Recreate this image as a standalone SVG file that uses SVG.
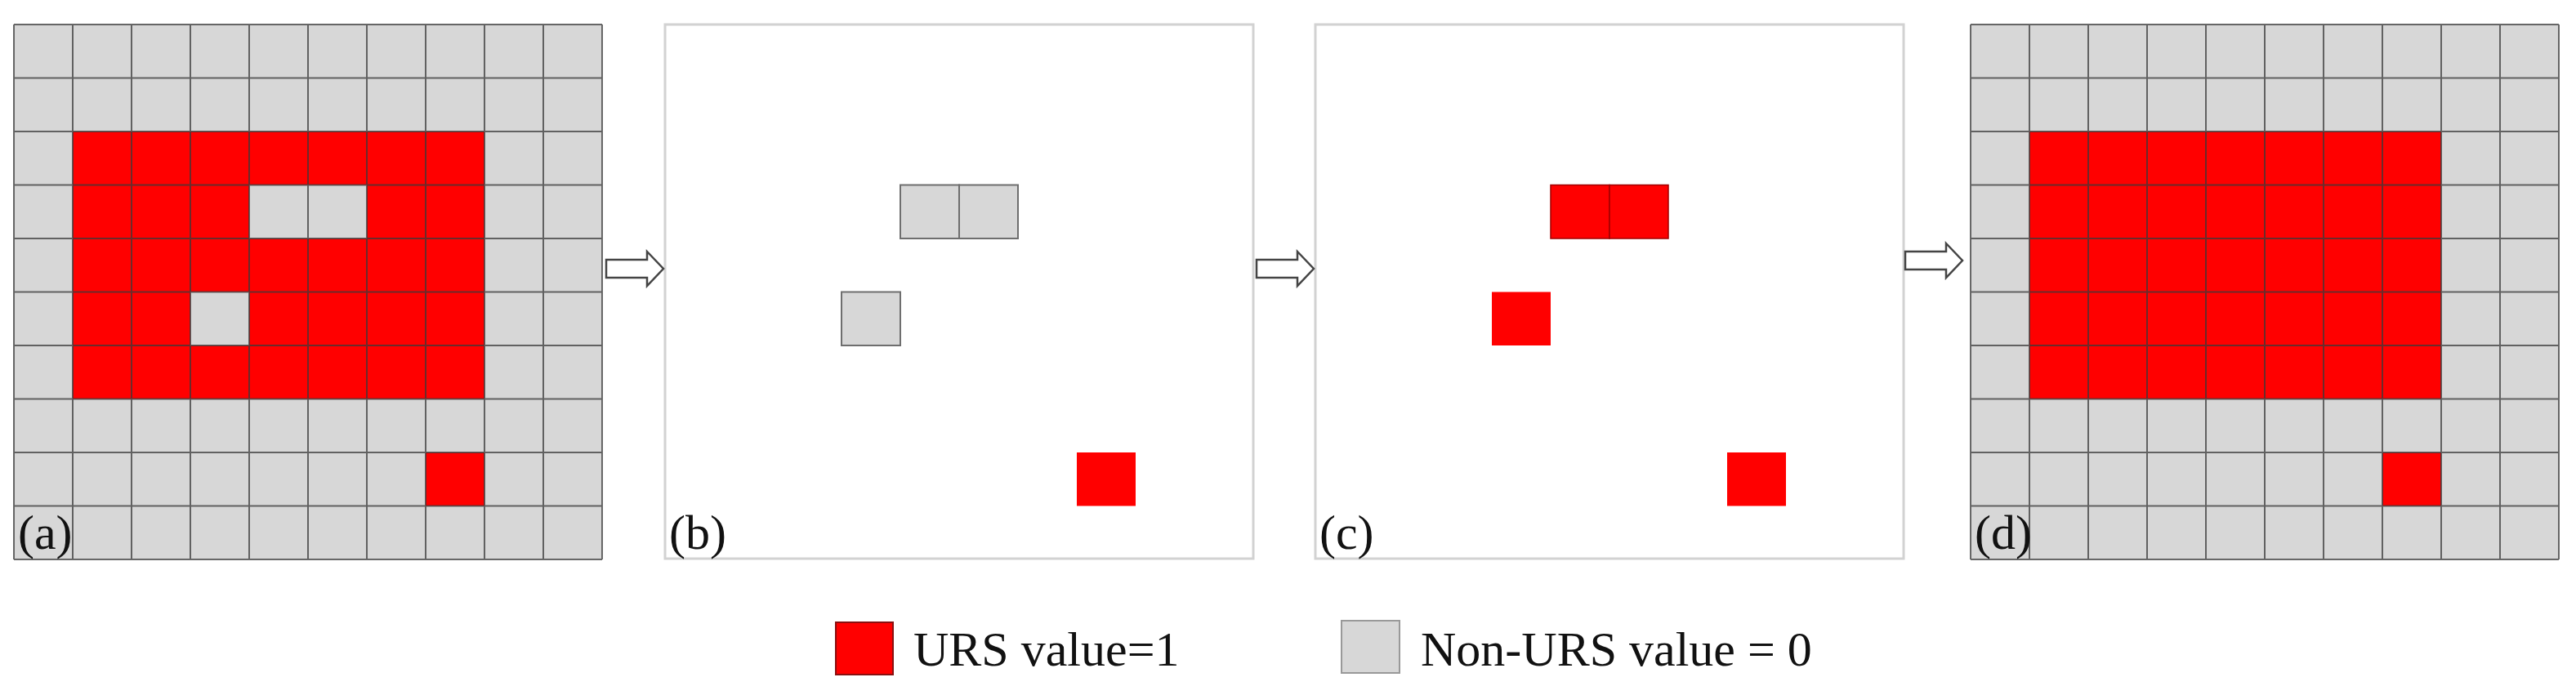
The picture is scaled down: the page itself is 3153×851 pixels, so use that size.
<svg xmlns="http://www.w3.org/2000/svg" width="3153" height="851" viewBox="0 0 3153 851">
<style>
.bg{fill:#d7d7d7}
.red{fill:#ff0000}
.grid{fill:none;stroke:#3a3a3a;stroke-width:2;stroke-opacity:0.75}
.frame{fill:#ffffff;stroke:#d2d2d2;stroke-width:3}
.gcell{fill:#d7d7d7;stroke:#6e6e6e;stroke-width:2}
.rcell{fill:#ff0000;stroke:#a00000;stroke-width:1.5}
.lbl{font-family:"Liberation Serif","Times New Roman",serif;font-size:60px;fill:#111}
.arrow{fill:#ffffff;stroke:#444;stroke-width:2.5;stroke-linejoin:miter}
</style>
<defs>
<path id="gridlines" class="grid" d="M0 0V655M72 0V655M144 0V655M216 0V655M288 0V655M360 0V655M432 0V655M504 0V655M576 0V655M648 0V655M720 0V655M0 0H720M0 65.5H720M0 131H720M0 196.5H720M0 262H720M0 327.5H720M0 393H720M0 458.5H720M0 524H720M0 589.5H720M0 655H720"/>
<path id="blockarrow" class="arrow" d="M0 10H50V0L70 21L50 42V32H0Z"/>
</defs>
<rect width="3153" height="851" fill="#ffffff"/>

<g id="panel-a" transform="translate(17,30)">
<rect class="bg" x="0" y="0" width="720" height="655"/>
<rect class="red" x="72" y="131" width="504" height="327.5"/>
<rect class="bg" x="288" y="196.5" width="144" height="65.5"/>
<rect class="bg" x="216" y="327.5" width="72" height="65.5"/>
<rect class="red" x="504" y="524" width="72" height="65.5"/>
<use href="#gridlines"/>
<text class="lbl" x="5" y="642">(a)</text>
</g>

<g id="panel-b" transform="translate(814,30)">
<rect class="frame" x="0" y="0" width="720" height="654"/>
<rect class="gcell" x="288" y="196.5" width="72" height="65.5"/>
<rect class="gcell" x="360" y="196.5" width="72" height="65.5"/>
<rect class="gcell" x="216" y="327.5" width="72" height="65.5"/>
<rect class="red" x="504" y="524" width="72" height="65.5"/>
<text class="lbl" x="5" y="642">(b)</text>
</g>

<g id="panel-c" transform="translate(1610,30)">
<rect class="frame" x="0" y="0" width="720" height="654"/>
<rect class="rcell" x="288" y="196.5" width="72" height="65.5"/>
<rect class="rcell" x="360" y="196.5" width="72" height="65.5"/>
<rect class="red" x="216" y="327.5" width="72" height="65.5"/>
<rect class="red" x="504" y="524" width="72" height="65.5"/>
<text class="lbl" x="5" y="642">(c)</text>
</g>

<g id="panel-d" transform="translate(2412,30)">
<rect class="bg" x="0" y="0" width="720" height="655"/>
<rect class="red" x="72" y="131" width="504" height="327.5"/>
<rect class="red" x="504" y="524" width="72" height="65.5"/>
<use href="#gridlines"/>
<text class="lbl" x="5" y="642">(d)</text>
</g>

<g id="connectors">
<use href="#blockarrow" transform="translate(742,308)"/>
<use href="#blockarrow" transform="translate(1538,308)"/>
<use href="#blockarrow" transform="translate(2332,298)"/>
</g>

<g id="legend">
<rect x="1023" y="762" width="70" height="64" fill="#ff0000" stroke="#8a1010" stroke-width="2"/>
<text class="lbl" x="1118" y="815">URS value=1</text>
<rect x="1642" y="760" width="71" height="64" fill="#d7d7d7" stroke="#999" stroke-width="2"/>
<text class="lbl" x="1739" y="815">Non-URS value = 0</text>
</g>
</svg>
